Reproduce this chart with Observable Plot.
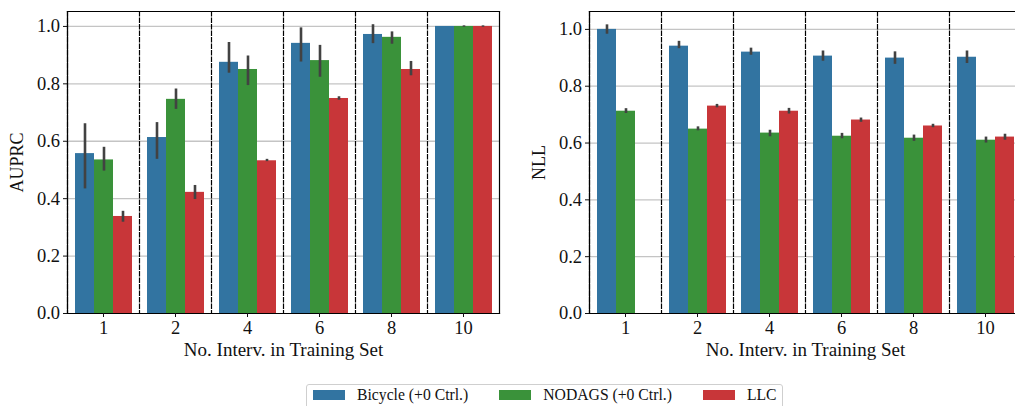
<!DOCTYPE html>
<html><head><meta charset="utf-8">
<script src="https://cdn.jsdelivr.net/npm/d3@7"></script>
<script src="https://cdn.jsdelivr.net/npm/@observablehq/plot@0.6"></script>
<style>
html,body{margin:0;padding:0;background:#fff;overflow:hidden;}
#root{position:relative;width:1015px;height:406px;overflow:hidden;font-family:"Liberation Serif",serif;}
#left{position:absolute;left:0;top:0;}
#right{position:absolute;left:510px;top:0;width:520px;}
#root svg{max-width:none !important;}
#root g[aria-label="fx-axis label"] text{font-size:19px;}
#root g[aria-label="y-axis label"] text{font-size:18px;}
#legend{position:absolute;left:306px;top:384px;width:477px;height:30px;border:1px solid #cfcfcf;border-radius:3px;box-sizing:border-box;display:flex;align-items:center;padding:0 0 8px 6px;font-size:15.7px;color:#111;}
.sw{width:32px;height:10px;margin-right:12px;flex:none;}
.lab{margin-right:31px;white-space:nowrap;}
</style>
</head><body><div id="root"><div id="left"></div><div id="right"></div><div id="legend"></div></div>
<script>
const categories = ["1","2","4","6","8","10"];
const methods = ["Bicycle (+0 Ctrl.)","NODAGS (+0 Ctrl.)","LLC"];
const colors = ["#3274a1","#3a923a","#c83639"];
const yTicks = [0,0.2,0.4,0.6,0.8,1.0];

// AUPRC (left panel)
const auprcBicycle   = [0.557,0.613,0.875,0.941,0.972,1.000];
const auprcBicycleLo = [0.434,0.537,0.837,0.876,0.940,1.000];
const auprcBicycleHi = [0.661,0.665,0.944,0.995,1.006,1.000];
const auprcNodags    = [0.535,0.746,0.850,0.881,0.962,1.000];
const auprcNodagsLo  = [0.496,0.711,0.794,0.823,0.938,0.997];
const auprcNodagsHi  = [0.579,0.782,0.897,0.934,0.981,1.002];
const auprcLlc       = [0.338,0.422,0.532,0.749,0.850,1.000];
const auprcLlcLo     = [0.318,0.397,0.529,0.743,0.828,0.997];
const auprcLlcHi     = [0.356,0.446,0.537,0.755,0.878,1.002];

// NLL (right panel)
const nllBicycle   = [1.000,0.941,0.920,0.906,0.899,0.902];
const nllBicycleLo = [0.983,0.932,0.909,0.888,0.877,0.880];
const nllBicycleHi = [1.016,0.958,0.934,0.924,0.921,0.924];
const nllNodags    = [0.712,0.649,0.635,0.624,0.617,0.610];
const nllNodagsLo  = [0.704,0.643,0.622,0.615,0.606,0.600];
const nllNodagsHi  = [0.721,0.657,0.645,0.634,0.628,0.621];
const nllLlc       = [null,0.730,0.712,0.681,0.660,0.621];
const nllLlcLo     = [null,0.724,0.702,0.673,0.654,0.610];
const nllLlcHi     = [null,0.736,0.722,0.688,0.666,0.631];

function buildRows(series) {
  const rows = [];
  series.forEach(([vals, lo, hi], mi) => {
    categories.forEach((c, i) => {
      if (vals[i] == null) return;
      rows.push({cat: c, method: methods[mi], value: vals[i], lo: lo[i], hi: hi[i]});
    });
  });
  return rows;
}

const auprcRows = buildRows([
  [auprcBicycle, auprcBicycleLo, auprcBicycleHi],
  [auprcNodags, auprcNodagsLo, auprcNodagsHi],
  [auprcLlc, auprcLlcLo, auprcLlcHi]
]);
const nllRows = buildRows([
  [nllBicycle, nllBicycleLo, nllBicycleHi],
  [nllNodags, nllNodagsLo, nllNodagsHi],
  [nllLlc, nllLlcLo, nllLlcHi]
]);

function panel({rows, yLabel, yMax, width, marginLeft, marginRight, labelOffset}) {
  const lw = 1.2;
  return Plot.plot({
    width, height: 370, marginLeft, marginRight, marginTop: 11, marginBottom: 57,
    style: {fontFamily: '"Liberation Serif", serif', fontSize: "18.5px", color: "#111", background: "#fff", maxWidth: "none"},
    fx: {domain: categories, padding: 0, axis: null},
    x: {domain: methods, paddingInner: 0, paddingOuter: 0.375, axis: null},
    y: {domain: [0, yMax], nice: false, axis: null},
    color: {domain: methods, range: colors},
    marks: [
      Plot.gridY(yTicks.slice(1), {stroke: "#c4c4c4", strokeOpacity: 1, strokeWidth: 1.3}),
      Plot.barY(rows, {fx: "cat", x: "method", y: "value", fill: "method"}),
      Plot.ruleX(rows, {fx: "cat", x: "method", y1: "lo", y2: "hi", stroke: "#424242", strokeWidth: 2.6}),
      Plot.frame({anchor: "left", stroke: "#000", strokeWidth: lw, strokeDasharray: "4.5,2"}),
      Plot.frame({anchor: "left", stroke: "#000", strokeWidth: lw, facetAnchor: "left"}),
      Plot.frame({anchor: "right", stroke: "#000", strokeWidth: lw, facetAnchor: "right"}),
      Plot.frame({anchor: "top", stroke: "#000", strokeWidth: lw}),
      Plot.frame({anchor: "bottom", stroke: "#000", strokeWidth: lw}),
      Plot.axisY(yTicks, {anchor: "left", tickSize: 4, tickPadding: 3.5, tickFormat: d3.format(".1f"), label: yLabel, labelAnchor: "center", labelArrow: "none", labelOffset}),
      Plot.axisFx({anchor: "bottom", tickSize: 4, tickPadding: 3, label: "No. Interv. in Training Set", labelAnchor: "center", labelArrow: "none", labelOffset: 42})
    ]
  });
}

document.getElementById("left").append(panel({rows: auprcRows, yLabel: "AUPRC", yMax: 1.052, width: 510, marginLeft: 64, marginRight: 9, labelOffset: 57}));
document.getElementById("right").append(panel({rows: nllRows, yLabel: "NLL", yMax: 1.063, width: 520, marginLeft: 77, marginRight: 7, labelOffset: 57}));

const legend = document.getElementById("legend");
methods.forEach((m, i) => {
  const sw = document.createElement("div");
  sw.className = "sw"; sw.style.background = colors[i];
  const lab = document.createElement("div");
  lab.className = "lab"; lab.textContent = m;
  legend.append(sw, lab);
});
</script>
</body></html>
